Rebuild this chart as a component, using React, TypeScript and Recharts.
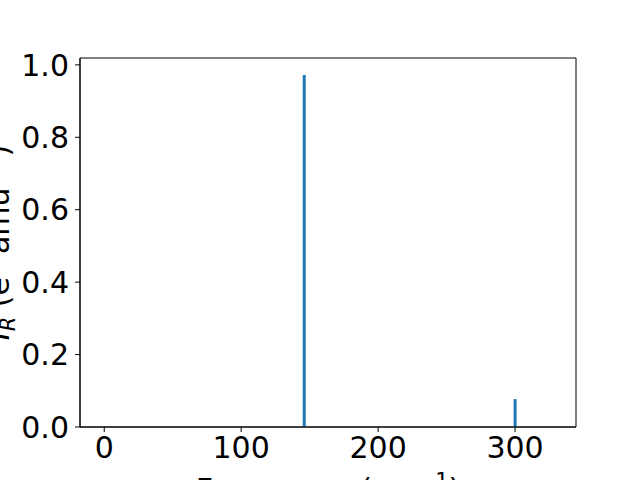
import React from 'react';
import { BarChart, Bar, XAxis, YAxis, Label, ReferenceArea } from 'recharts';

const frequencies = [146, 300];
const intensities = [0.972, 0.077];
const xTicks = [0, 100, 200, 300];
const yTicks = [0, 0.2, 0.4, 0.6, 0.8, 1.0];
const xDomain = [-17.7, 344.5];
const yDomain = [0, 1.019];

const data = frequencies.map((f, i) => ({ freq: f, ir: intensities[i] }));

const FONT = "'DejaVu Sans', sans-serif";
const FS = 30;
const SFS = 21;

const YLabel = (props: any) => {
  const vb = props.viewBox || { x: 0, y: 58, width: 80, height: 369 };
  const cx = vb.x + 9;
  const cy = vb.y + vb.height / 2;
  return (
    <text
      x={cx}
      y={cy}
      transform={`rotate(-90, ${cx}, ${cy})`}
      textAnchor="middle"
      fontSize={FS}
      fontFamily={FONT}
      fill="#000"
    >
      <tspan fontStyle="italic">I</tspan>
      <tspan fontStyle="italic" fontSize={SFS} dy={6}>R</tspan>
      <tspan dy={-6}> (e</tspan>
      <tspan fontSize={SFS} dy={-12}>2</tspan>
      <tspan dy={12}> amu</tspan>
      <tspan fontSize={SFS} dy={-12}>−1</tspan>
      <tspan dy={12}>)</tspan>
    </text>
  );
};

const XLabel = (props: any) => {
  const vb = props.viewBox || { x: 80, y: 427, width: 496, height: 53 };
  const cx = vb.x + vb.width / 2;
  const by = vb.y + 73;
  return (
    <text x={cx} y={by} textAnchor="middle" fontSize={FS} fontFamily={FONT} fill="#000">
      <tspan>Frequency (cm</tspan>
      <tspan fontSize={SFS} dy={-12}>−1</tspan>
      <tspan dy={12}>)</tspan>
    </text>
  );
};

export default function App() {
  return (
    <div style={{ position: 'absolute', left: 0, top: 0, width: 640, height: 480, background: '#fff' }}>
      <BarChart
        width={640}
        height={480}
        data={data}
        margin={{ top: 58, right: 64, bottom: 0, left: 0 }}
      >
        <XAxis
          dataKey="freq"
          type="number"
          domain={xDomain}
          ticks={xTicks}
          allowDataOverflow
          height={53}
          tickSize={5}
          tickMargin={5}
          stroke="#000"
          axisLine={{ stroke: '#000', strokeWidth: 1 }}
          tickLine={{ stroke: '#000', strokeWidth: 1 }}
          tick={{ fill: '#000', fontSize: FS, fontFamily: FONT }}
        >
          <Label content={<XLabel />} />
        </XAxis>
        <YAxis
          type="number"
          domain={yDomain}
          ticks={yTicks}
          allowDataOverflow
          width={80}
          tickSize={5}
          tickMargin={6}
          tickFormatter={(v: number) => v.toFixed(1)}
          axisLine={{ stroke: '#000', strokeWidth: 1 }}
          tickLine={{ stroke: '#000', strokeWidth: 1 }}
          tick={{ fill: '#000', fontSize: FS, fontFamily: FONT }}
        >
          <Label content={<YLabel />} />
        </YAxis>
        <ReferenceArea
          x1={xDomain[0]}
          x2={xDomain[1]}
          y1={yDomain[0]}
          y2={yDomain[1]}
          fill="none"
          fillOpacity={0}
          stroke="#000"
          strokeWidth={1}
          strokeOpacity={1}
          ifOverflow="visible"
        />
        <Bar
          dataKey="ir"
          fill="#1f77b4"
          barSize={3}
          isAnimationActive={false}
        />
      </BarChart>
    </div>
  );
}
